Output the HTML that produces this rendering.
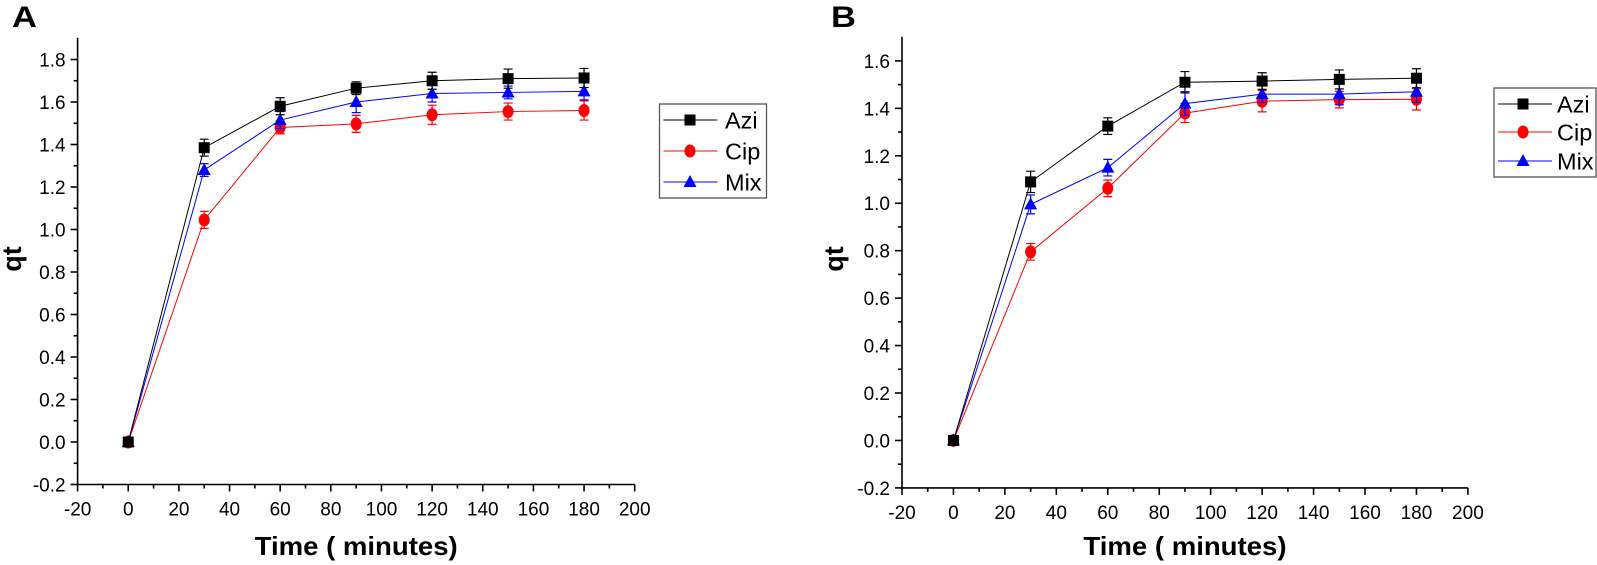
<!DOCTYPE html>
<html><head><meta charset="utf-8"><style>
html,body{margin:0;padding:0;background:#fff;}
svg{display:block;font-family:"Liberation Sans",sans-serif;}
</style></head><body>
<svg id="chart" width="1597" height="565" viewBox="0 0 1597 565" xmlns="http://www.w3.org/2000/svg"></svg>
<script>
const xValues = [0, 30, 60, 90, 120, 150, 180];
const aziA = [0, 1.385, 1.58, 1.665, 1.70, 1.71, 1.713];
const cipA = [0, 1.045, 1.48, 1.497, 1.54, 1.555, 1.56];
const mixA = [0, 1.28, 1.515, 1.60, 1.64, 1.645, 1.65];
const aziErrA = [0.01, 0.04, 0.04, 0.03, 0.04, 0.045, 0.045];
const cipErrA = [0.01, 0.04, 0.03, 0.04, 0.045, 0.04, 0.045];
const mixErrA = [0.01, 0.03, 0.04, 0.05, 0.04, 0.03, 0.04];
const aziB = [0, 1.09, 1.325, 1.51, 1.515, 1.522, 1.527];
const cipB = [0, 0.795, 1.063, 1.38, 1.43, 1.437, 1.438];
const mixB = [0, 0.995, 1.15, 1.42, 1.46, 1.46, 1.47];
const aziErrB = [0.01, 0.045, 0.035, 0.045, 0.035, 0.04, 0.04];
const cipErrB = [0.01, 0.035, 0.035, 0.04, 0.045, 0.035, 0.045];
const mixErrB = [0.01, 0.04, 0.035, 0.05, 0.035, 0.045, 0.045];
const xTicks = [-20, 0, 20, 40, 60, 80, 100, 120, 140, 160, 180, 200];
const yTicksA = [-0.2, 0, 0.2, 0.4, 0.6, 0.8, 1.0, 1.2, 1.4, 1.6, 1.8];
const yTicksB = [-0.2, 0, 0.2, 0.4, 0.6, 0.8, 1.0, 1.2, 1.4, 1.6];
const seriesNames = ["Azi", "Cip", "Mix"];

const NS = "http://www.w3.org/2000/svg";
const svg = document.getElementById("chart");
function mk(tag, attrs, parent) {
  const e = document.createElementNS(NS, tag);
  for (const k in attrs) e.setAttribute(k, attrs[k]);
  (parent || svg).appendChild(e);
  return e;
}
function txt(s, x, y, size, weight, anchor, sx, parent, rot) {
  const t = mk("text", {"font-size": size, "font-weight": weight, "text-anchor": anchor,
    transform: "translate(" + x + "," + y + ")" + (rot ? " rotate(" + rot + ")" : "") + " scale(" + sx + ",1)"}, parent);
  t.textContent = s;
  return t;
}
const colors = ["#000", "#ff0000", "#0000ff"];
function marker(kind, x, y, col, g) {
  if (kind === 0) return mk("rect", {x: x - 5.5, y: y - 5.5, width: 11, height: 11, fill: col}, g);
  if (kind === 1) return mk("ellipse", {cx: x, cy: y, rx: 5.5, ry: 6.5, fill: col}, g);
  return mk("polygon", {points: (x) + "," + (y - 7) + " " + (x + 6.5) + "," + (y + 5) + " " + (x - 6.5) + "," + (y + 5), fill: col}, g);
}
function panel(p) {
  const xs = v => p.x0 + (v - (-20)) / 220 * (p.x1 - p.x0);
  const ys = v => p.yb + (v - (-0.2)) / (p.ymax - (-0.2)) * (p.yt - p.yb);
  const g = mk("g", {});
  
  
  const ax = mk("g", {stroke: "#000", "stroke-width": 1.6}, g);
  
  
  mk("line", {x1: p.x0, y1: p.top, x2: p.x0, y2: p.yb + 0.8}, ax);
  mk("line", {x1: p.x0 - 0.8, y1: p.yb, x2: p.x1, y2: p.yb}, ax);
  for (let v = -20; v <= 200; v += 10) {
    const major = v % 20 === 0;
    mk("line", {x1: xs(v), y1: p.yb, x2: xs(v), y2: p.yb + (major ? 7 : 4)}, ax);
  }
  for (let i = 0; i <= Math.round((p.ymax + 0.2) / 0.1); i++) {
    const v = -0.2 + i * 0.1;
    const major = i % 2 === 0;
    mk("line", {x1: p.x0, y1: ys(v), x2: p.x0 - (major ? 7 : 4), y2: ys(v)}, ax);
  }
  const tl = mk("g", {}, g);
  
  
  xTicks.forEach(v => txt(String(v), xs(v), p.yb + 31, 19, "normal", "middle", 1, tl));
  const yl = mk("g", {}, g);
  
  
  p.yTicks.forEach(v => txt(v.toFixed(1), p.x0 - 12, ys(v) + 7, 19, "normal", "end", 1, yl));
  const xt = txt("Time ( minutes)", (p.x0 + p.x1) / 2, 555, 26, "bold", "middle", 1.06, g);
  
  
  const yt = txt("qt", p.qtx, 259, 27, "bold", "middle", 1, g, -90);
  
  
  const pl = txt(p.label, p.lx, 27, 30, "bold", "start", 1.15, g);
  
  
  const order = [1, 2, 0];
  order.forEach(si => {
    const vals = p.series[si], errs = p.errs[si], col = colors[si];
    const sg = mk("g", {}, g);
    
    
    mk("polyline", {points: xValues.map((x, i) => xs(x) + "," + ys(vals[i])).join(" "), fill: "none", stroke: col, "stroke-width": 1}, sg);
    xValues.forEach((x, i) => {
      const cx = xs(x), top = ys(vals[i] + errs[i]), bot = ys(vals[i] - errs[i]);
      mk("path", {d: "M" + cx + "," + top + "V" + bot + "M" + (cx - 4.5) + "," + top + "H" + (cx + 4.5) + "M" + (cx - 4.5) + "," + bot + "H" + (cx + 4.5), stroke: col, "stroke-width": 1.2, fill: "none"}, sg);
      const m = marker(si, cx, ys(vals[i]), col, sg);
      
      
    });
  });
  const L = p.legend;
  const lg = mk("g", {}, g);
  
  
  mk("rect", {x: L.x, y: L.y, width: L.w, height: L.h, fill: "#fff", stroke: "#555", "stroke-width": 1.3}, lg);
  seriesNames.forEach((n, i) => {
    const e = mk("g", {}, lg);
    
    
    const yy = L.ey[i];
    mk("line", {x1: L.x + 4, y1: yy, x2: L.x + 58, y2: yy, stroke: colors[i], "stroke-width": 1}, e);
    marker(i, L.mx, yy, colors[i], e);
    txt(n, L.tx, yy + 8.5, 23.5, "normal", "start", 1, e);
  });
}
panel({name: "panel-a", label: "A", lx: 12, qtx: 21, x0: 77.6, x1: 634.7, yb: 484.5, yt: 59.5, ymax: 1.8, top: 37.8,
  yTicks: yTicksA, series: [aziA, cipA, mixA], errs: [aziErrA, cipErrA, mixErrA],
  legend: {x: 659.5, y: 104, w: 107, h: 94, ey: [120, 151, 182], mx: 690, tx: 725}});
panel({name: "panel-b", label: "B", lx: 831, qtx: 843, x0: 902, x1: 1467.9, yb: 487.9, yt: 60.9, ymax: 1.6, top: 36.8,
  yTicks: yTicksB, series: [aziB, cipB, mixB], errs: [aziErrB, cipErrB, mixErrB],
  legend: {x: 1494, y: 88, w: 102, h: 89, ey: [104, 132, 161], mx: 1523, tx: 1557}});
</script>
</body></html>
